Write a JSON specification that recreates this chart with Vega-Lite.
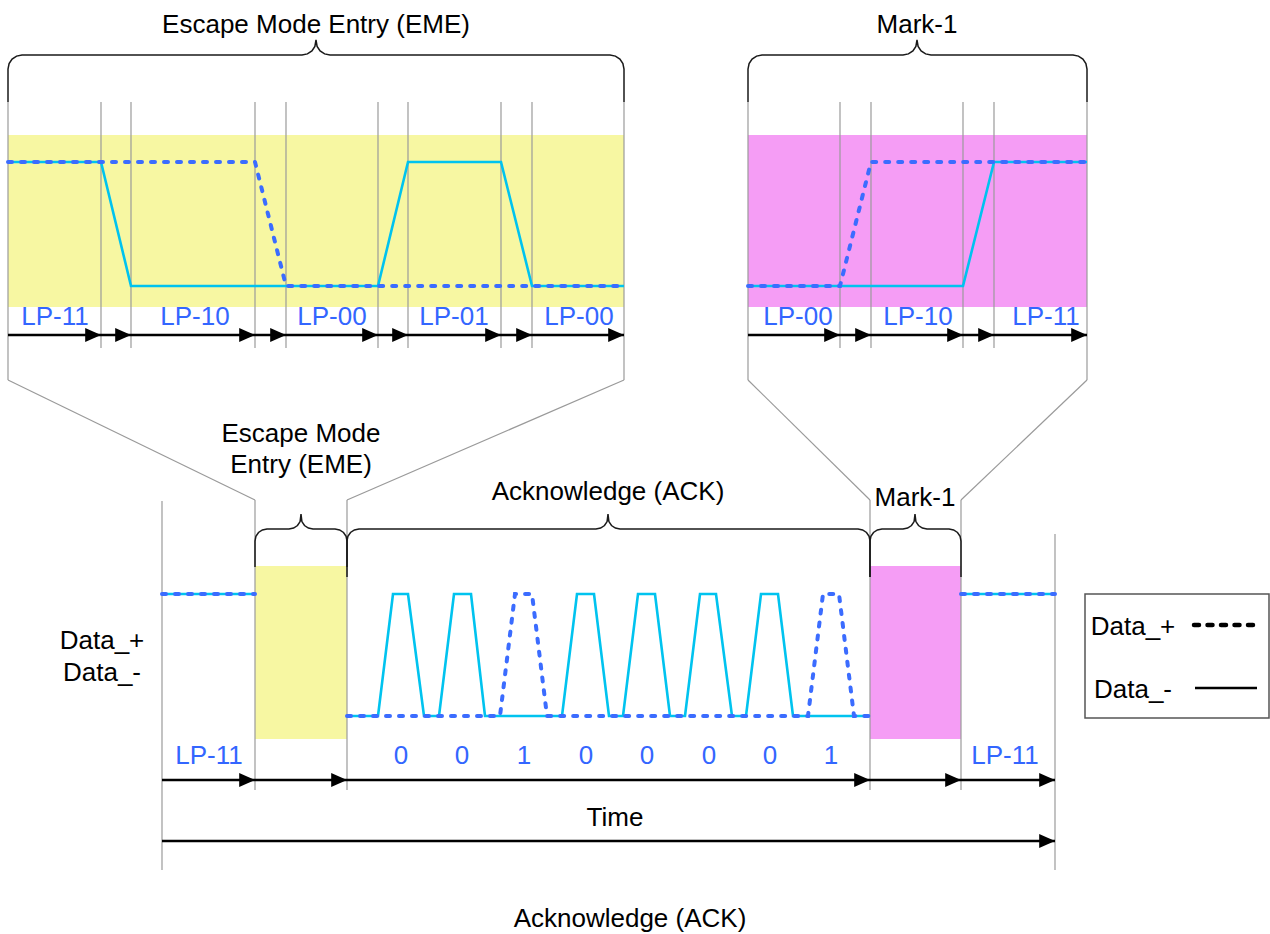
{
"$schema":"https://vega.github.io/schema/vega-lite/v6.json",
"width":1270,"height":934,
"autosize":{"type":"fit","contains":"padding"},
"padding":0,
"background":"white",
"config":{"view":{"stroke":null},"axis":{"disable":true}},
"datasets":{
"bands":[
{"xa":8,"xb":624,"ya":135,"yb":307,"k":"eme"},
{"xa":748,"xb":1087,"ya":135,"yb":307,"k":"mark"},
{"xa":255,"xb":347,"ya":566,"yb":739,"k":"eme"},
{"xa":870,"xb":961,"ya":566,"yb":739,"k":"mark"}
],
"grey":[
{"xa":8,"ya":102,"xb":8,"yb":380},{"xa":624,"ya":102,"xb":624,"yb":380},
{"xa":748,"ya":102,"xb":748,"yb":380},{"xa":1087,"ya":102,"xb":1087,"yb":380},
{"xa":101,"ya":102,"xb":101,"yb":348},{"xa":131,"ya":102,"xb":131,"yb":348},
{"xa":255,"ya":102,"xb":255,"yb":348},{"xa":286,"ya":102,"xb":286,"yb":348},
{"xa":378,"ya":102,"xb":378,"yb":348},{"xa":408,"ya":102,"xb":408,"yb":348},
{"xa":501,"ya":102,"xb":501,"yb":348},{"xa":532,"ya":102,"xb":532,"yb":348},
{"xa":840,"ya":102,"xb":840,"yb":348},{"xa":871,"ya":102,"xb":871,"yb":348},
{"xa":963,"ya":102,"xb":963,"yb":348},{"xa":994,"ya":102,"xb":994,"yb":348},
{"xa":8,"ya":380,"xb":255,"yb":500},{"xa":624,"ya":380,"xb":347,"yb":500},
{"xa":748,"ya":380,"xb":870,"yb":500},{"xa":1087,"ya":380,"xb":961,"yb":500},
{"xa":162,"ya":501,"xb":162,"yb":870},{"xa":255,"ya":500,"xb":255,"yb":790},
{"xa":347,"ya":500,"xb":347,"yb":790},{"xa":870,"ya":500,"xb":870,"yb":790},
{"xa":961,"ya":500,"xb":961,"yb":790},{"xa":1055,"ya":534,"xb":1055,"yb":870}
],
"sig":[
{"g":"p1","s":"p","i":0,"x":8,"y":162},{"g":"p1","s":"p","i":1,"x":255,"y":162},{"g":"p1","s":"p","i":2,"x":286,"y":286},{"g":"p1","s":"p","i":3,"x":624,"y":286},
{"g":"m1","s":"m","i":0,"x":8,"y":162},{"g":"m1","s":"m","i":1,"x":101,"y":162},{"g":"m1","s":"m","i":2,"x":131,"y":286},{"g":"m1","s":"m","i":3,"x":378,"y":286},{"g":"m1","s":"m","i":4,"x":408,"y":162},{"g":"m1","s":"m","i":5,"x":501,"y":162},{"g":"m1","s":"m","i":6,"x":532,"y":286},{"g":"m1","s":"m","i":7,"x":624,"y":286},
{"g":"p2","s":"p","i":0,"x":748,"y":286},{"g":"p2","s":"p","i":1,"x":840,"y":286},{"g":"p2","s":"p","i":2,"x":871,"y":162},{"g":"p2","s":"p","i":3,"x":1087,"y":162},
{"g":"m2","s":"m","i":0,"x":748,"y":286},{"g":"m2","s":"m","i":1,"x":963,"y":286},{"g":"m2","s":"m","i":2,"x":994,"y":162},{"g":"m2","s":"m","i":3,"x":1087,"y":162},
{"g":"p3","s":"p","i":0,"x":162,"y":594},{"g":"p3","s":"p","i":1,"x":255,"y":594},
{"g":"m3","s":"m","i":0,"x":162,"y":594},{"g":"m3","s":"m","i":1,"x":255,"y":594},
{"g":"p4","s":"p","i":0,"x":961,"y":594},{"g":"p4","s":"p","i":1,"x":1055,"y":594},
{"g":"m4","s":"m","i":0,"x":961,"y":594},{"g":"m4","s":"m","i":1,"x":1055,"y":594},
{"g":"p5","s":"p","i":0,"x":347,"y":716},{"g":"p5","s":"p","i":1,"x":500,"y":716},{"g":"p5","s":"p","i":2,"x":515,"y":594},{"g":"p5","s":"p","i":3,"x":532,"y":594},{"g":"p5","s":"p","i":4,"x":547,"y":716},{"g":"p5","s":"p","i":5,"x":808,"y":716},{"g":"p5","s":"p","i":6,"x":823,"y":594},{"g":"p5","s":"p","i":7,"x":839,"y":594},{"g":"p5","s":"p","i":8,"x":854,"y":716},{"g":"p5","s":"p","i":9,"x":870,"y":716},
{"g":"m5","s":"m","i":0,"x":347,"y":716},{"g":"m5","s":"m","i":1,"x":378,"y":716},{"g":"m5","s":"m","i":2,"x":393,"y":594},{"g":"m5","s":"m","i":3,"x":408,"y":594},{"g":"m5","s":"m","i":4,"x":424,"y":716},
{"g":"m5","s":"m","i":5,"x":439,"y":716},{"g":"m5","s":"m","i":6,"x":454,"y":594},{"g":"m5","s":"m","i":7,"x":471,"y":594},{"g":"m5","s":"m","i":8,"x":485,"y":716},
{"g":"m5","s":"m","i":9,"x":562,"y":716},{"g":"m5","s":"m","i":10,"x":577,"y":594},{"g":"m5","s":"m","i":11,"x":594,"y":594},{"g":"m5","s":"m","i":12,"x":609,"y":716},
{"g":"m5","s":"m","i":13,"x":623,"y":716},{"g":"m5","s":"m","i":14,"x":638,"y":594},{"g":"m5","s":"m","i":15,"x":655,"y":594},{"g":"m5","s":"m","i":16,"x":670,"y":716},
{"g":"m5","s":"m","i":17,"x":685,"y":716},{"g":"m5","s":"m","i":18,"x":700,"y":594},{"g":"m5","s":"m","i":19,"x":716,"y":594},{"g":"m5","s":"m","i":20,"x":732,"y":716},
{"g":"m5","s":"m","i":21,"x":746,"y":716},{"g":"m5","s":"m","i":22,"x":761,"y":594},{"g":"m5","s":"m","i":23,"x":778,"y":594},{"g":"m5","s":"m","i":24,"x":793,"y":716},
{"g":"m5","s":"m","i":25,"x":870,"y":716},
{"g":"lp","s":"lp","i":0,"x":1194,"y":625},{"g":"lp","s":"lp","i":1,"x":1256,"y":625},
{"g":"lm","s":"lm","i":0,"x":1195,"y":688},{"g":"lm","s":"lm","i":1,"x":1257,"y":688}
],
"arrows":[
{"xa":8,"xb":101,"y":335},{"xa":101,"xb":131,"y":335},{"xa":131,"xb":255,"y":335},{"xa":255,"xb":286,"y":335},{"xa":286,"xb":378,"y":335},{"xa":378,"xb":408,"y":335},{"xa":408,"xb":501,"y":335},{"xa":501,"xb":532,"y":335},{"xa":532,"xb":624,"y":335},
{"xa":748,"xb":840,"y":335},{"xa":840,"xb":871,"y":335},{"xa":871,"xb":963,"y":335},{"xa":963,"xb":994,"y":335},{"xa":994,"xb":1087,"y":335},
{"xa":162,"xb":255,"y":780},{"xa":255,"xb":347,"y":780},{"xa":347,"xb":870,"y":780},{"xa":870,"xb":961,"y":780},{"xa":961,"xb":1055,"y":780},
{"xa":162,"xb":1055,"y":841}
],
"braces":[
{"b":"t1","i":0,"x":8,"y":102},{"b":"t1","i":1,"x":8,"y":69},{"b":"t1","i":2,"x":9.1,"y":63.6},{"b":"t1","i":3,"x":12.1,"y":59.1},{"b":"t1","i":4,"x":16.6,"y":56.1},{"b":"t1","i":5,"x":22,"y":55},{"b":"t1","i":6,"x":302,"y":55},{"b":"t1","i":7,"x":307.4,"y":53.9},{"b":"t1","i":8,"x":311.9,"y":50.9},{"b":"t1","i":9,"x":314.9,"y":46.4},{"b":"t1","i":10,"x":316,"y":40},{"b":"t1","i":11,"x":317.1,"y":46.4},{"b":"t1","i":12,"x":320.1,"y":50.9},{"b":"t1","i":13,"x":324.6,"y":53.9},{"b":"t1","i":14,"x":330,"y":55},{"b":"t1","i":15,"x":610,"y":55},{"b":"t1","i":16,"x":615.4,"y":56.1},{"b":"t1","i":17,"x":619.9,"y":59.1},{"b":"t1","i":18,"x":622.9,"y":63.6},{"b":"t1","i":19,"x":624,"y":69},{"b":"t1","i":20,"x":624,"y":102},
{"b":"t2","i":0,"x":748,"y":102},{"b":"t2","i":1,"x":748,"y":69},{"b":"t2","i":2,"x":749.1,"y":63.6},{"b":"t2","i":3,"x":752.1,"y":59.1},{"b":"t2","i":4,"x":756.6,"y":56.1},{"b":"t2","i":5,"x":762,"y":55},{"b":"t2","i":6,"x":903,"y":55},{"b":"t2","i":7,"x":908.4,"y":53.9},{"b":"t2","i":8,"x":912.9,"y":50.9},{"b":"t2","i":9,"x":915.9,"y":46.4},{"b":"t2","i":10,"x":917,"y":40},{"b":"t2","i":11,"x":918.1,"y":46.4},{"b":"t2","i":12,"x":921.1,"y":50.9},{"b":"t2","i":13,"x":925.6,"y":53.9},{"b":"t2","i":14,"x":931,"y":55},{"b":"t2","i":15,"x":1073,"y":55},{"b":"t2","i":16,"x":1078.4,"y":56.1},{"b":"t2","i":17,"x":1082.9,"y":59.1},{"b":"t2","i":18,"x":1085.9,"y":63.6},{"b":"t2","i":19,"x":1087,"y":69},{"b":"t2","i":20,"x":1087,"y":102},
{"b":"b1","i":0,"x":255,"y":567},{"b":"b1","i":1,"x":255,"y":541},{"b":"b1","i":2,"x":255.9,"y":536.4},{"b":"b1","i":3,"x":258.5,"y":532.5},{"b":"b1","i":4,"x":262.4,"y":529.9},{"b":"b1","i":5,"x":267,"y":529},{"b":"b1","i":6,"x":289,"y":529},{"b":"b1","i":7,"x":293.6,"y":528.1},{"b":"b1","i":8,"x":297.5,"y":525.5},{"b":"b1","i":9,"x":300.1,"y":521.6},{"b":"b1","i":10,"x":301,"y":514},{"b":"b1","i":11,"x":301.9,"y":521.6},{"b":"b1","i":12,"x":304.5,"y":525.5},{"b":"b1","i":13,"x":308.4,"y":528.1},{"b":"b1","i":14,"x":313,"y":529},{"b":"b1","i":15,"x":335,"y":529},{"b":"b1","i":16,"x":339.6,"y":529.9},{"b":"b1","i":17,"x":343.5,"y":532.5},{"b":"b1","i":18,"x":346.1,"y":536.4},{"b":"b1","i":19,"x":347,"y":541},{"b":"b1","i":20,"x":347,"y":567},
{"b":"b2","i":0,"x":347,"y":577},{"b":"b2","i":1,"x":347,"y":541},{"b":"b2","i":2,"x":347.9,"y":536.4},{"b":"b2","i":3,"x":350.5,"y":532.5},{"b":"b2","i":4,"x":354.4,"y":529.9},{"b":"b2","i":5,"x":359,"y":529},{"b":"b2","i":6,"x":596,"y":529},{"b":"b2","i":7,"x":600.6,"y":528.1},{"b":"b2","i":8,"x":604.5,"y":525.5},{"b":"b2","i":9,"x":607.1,"y":521.6},{"b":"b2","i":10,"x":608,"y":514},{"b":"b2","i":11,"x":608.9,"y":521.6},{"b":"b2","i":12,"x":611.5,"y":525.5},{"b":"b2","i":13,"x":615.4,"y":528.1},{"b":"b2","i":14,"x":620,"y":529},{"b":"b2","i":15,"x":858,"y":529},{"b":"b2","i":16,"x":862.6,"y":529.9},{"b":"b2","i":17,"x":866.5,"y":532.5},{"b":"b2","i":18,"x":869.1,"y":536.4},{"b":"b2","i":19,"x":870,"y":541},{"b":"b2","i":20,"x":870,"y":577},
{"b":"b3","i":0,"x":870,"y":577},{"b":"b3","i":1,"x":870,"y":541},{"b":"b3","i":2,"x":870.9,"y":536.4},{"b":"b3","i":3,"x":873.5,"y":532.5},{"b":"b3","i":4,"x":877.4,"y":529.9},{"b":"b3","i":5,"x":882,"y":529},{"b":"b3","i":6,"x":903,"y":529},{"b":"b3","i":7,"x":907.6,"y":528.1},{"b":"b3","i":8,"x":911.5,"y":525.5},{"b":"b3","i":9,"x":914.1,"y":521.6},{"b":"b3","i":10,"x":915,"y":514},{"b":"b3","i":11,"x":915.9,"y":521.6},{"b":"b3","i":12,"x":918.5,"y":525.5},{"b":"b3","i":13,"x":922.4,"y":528.1},{"b":"b3","i":14,"x":927,"y":529},{"b":"b3","i":15,"x":949,"y":529},{"b":"b3","i":16,"x":953.6,"y":529.9},{"b":"b3","i":17,"x":957.5,"y":532.5},{"b":"b3","i":18,"x":960.1,"y":536.4},{"b":"b3","i":19,"x":961,"y":541},{"b":"b3","i":20,"x":961,"y":577}
],
"box":[{"xa":1085,"xb":1269,"ya":594,"yb":718}],
"texts":[
{"t":"Escape Mode Entry (EME)","x":316,"y":33,"c":"k"},
{"t":"Mark-1","x":917,"y":33,"c":"k"},
{"t":"LP-11","x":55,"y":325,"c":"b"},
{"t":"LP-10","x":195,"y":325,"c":"b"},
{"t":"LP-00","x":332,"y":325,"c":"b"},
{"t":"LP-01","x":454,"y":325,"c":"b"},
{"t":"LP-00","x":579,"y":325,"c":"b"},
{"t":"LP-00","x":798,"y":325,"c":"b"},
{"t":"LP-10","x":918,"y":325,"c":"b"},
{"t":"LP-11","x":1046,"y":325,"c":"b"},
{"t":"Escape Mode","x":301,"y":442,"c":"k"},
{"t":"Entry (EME)","x":301,"y":473,"c":"k"},
{"t":"Acknowledge (ACK)","x":608,"y":500,"c":"k"},
{"t":"Mark-1","x":915,"y":506,"c":"k"},
{"t":"Data_+","x":102,"y":649,"c":"k"},
{"t":"Data_-","x":102,"y":681,"c":"k"},
{"t":"LP-11","x":209,"y":764,"c":"b"},
{"t":"0","x":401,"y":764,"c":"b"},
{"t":"0","x":462,"y":764,"c":"b"},
{"t":"1","x":524,"y":764,"c":"b"},
{"t":"0","x":586,"y":764,"c":"b"},
{"t":"0","x":647,"y":764,"c":"b"},
{"t":"0","x":709,"y":764,"c":"b"},
{"t":"0","x":770,"y":764,"c":"b"},
{"t":"1","x":831,"y":764,"c":"b"},
{"t":"LP-11","x":1005,"y":764,"c":"b"},
{"t":"Time","x":615,"y":826,"c":"k"},
{"t":"Acknowledge (ACK)","x":630,"y":927,"c":"k"},
{"t":"Data_+","x":1133,"y":635,"c":"k"},
{"t":"Data_-","x":1133,"y":698,"c":"k"}
]
},
"layer":[
{"data":{"name":"bands"},"mark":{"type":"rect","opacity":1},
 "encoding":{
  "x":{"field":"xa","type":"quantitative","scale":{"domain":[0,1270],"nice":false,"zero":false}},
  "x2":{"field":"xb"},
  "y":{"field":"ya","type":"quantitative","scale":{"domain":[0,934],"nice":false,"zero":false,"reverse":true}},
  "y2":{"field":"yb"},
  "color":{"field":"k","type":"nominal","scale":{"domain":["eme","mark"],"range":["#f7f7a2","#f59df5"]},"legend":null}}},
{"data":{"name":"grey"},"mark":{"type":"rule","color":"#9a9a9a","strokeWidth":1.2},
 "encoding":{"x":{"field":"xa","type":"quantitative"},"x2":{"field":"xb"},"y":{"field":"ya","type":"quantitative"},"y2":{"field":"yb"}}},
{"data":{"name":"sig"},"transform":[{"filter":"datum.s=='m'"}],
 "mark":{"type":"line","color":"#00c3ef","strokeWidth":2.6},
 "encoding":{"x":{"field":"x","type":"quantitative"},"y":{"field":"y","type":"quantitative"},"detail":{"field":"g"},"order":{"field":"i","type":"quantitative"}}},
{"data":{"name":"sig"},"transform":[{"filter":"datum.s=='p'"}],
 "mark":{"type":"line","color":"#3b6cff","strokeWidth":4,"strokeDash":[4,9],"strokeCap":"round"},
 "encoding":{"x":{"field":"x","type":"quantitative"},"y":{"field":"y","type":"quantitative"},"detail":{"field":"g"},"order":{"field":"i","type":"quantitative"}}},
{"data":{"name":"arrows"},"mark":{"type":"rule","color":"#000000","strokeWidth":2.5},
 "encoding":{"x":{"field":"xa","type":"quantitative"},"x2":{"field":"xb"},"y":{"field":"y","type":"quantitative"}}},
{"data":{"name":"arrows"},"mark":{"type":"point","shape":"M0,0L-1,-0.45L-1,0.45Z","size":1000,"filled":true,"opacity":1,"color":"#000000","strokeWidth":0},
 "encoding":{"x":{"field":"xb","type":"quantitative"},"y":{"field":"y","type":"quantitative"}}},
{"data":{"name":"braces"},"mark":{"type":"line","color":"#1a1a1a","strokeWidth":1.5},
 "encoding":{"x":{"field":"x","type":"quantitative"},"y":{"field":"y","type":"quantitative"},"detail":{"field":"b"},"order":{"field":"i","type":"quantitative"}}},
{"data":{"name":"box"},"mark":{"type":"rect","fill":null,"fillOpacity":0,"stroke":"#555555","strokeWidth":1.5},
 "encoding":{"x":{"field":"xa","type":"quantitative"},"x2":{"field":"xb"},"y":{"field":"ya","type":"quantitative"},"y2":{"field":"yb"}}},
{"data":{"name":"sig"},"transform":[{"filter":"datum.s=='lm'"}],
 "mark":{"type":"line","color":"#000000","strokeWidth":2.5},
 "encoding":{"x":{"field":"x","type":"quantitative"},"y":{"field":"y","type":"quantitative"},"order":{"field":"i","type":"quantitative"}}},
{"data":{"name":"sig"},"transform":[{"filter":"datum.s=='lp'"}],
 "mark":{"type":"line","color":"#000000","strokeWidth":4.5,"strokeDash":[5,8.5],"strokeCap":"round"},
 "encoding":{"x":{"field":"x","type":"quantitative"},"y":{"field":"y","type":"quantitative"},"order":{"field":"i","type":"quantitative"}}},
{"data":{"name":"texts"},"transform":[{"filter":"datum.c=='k'"}],
 "mark":{"type":"text","font":"Liberation Sans","fontSize":26,"align":"center","baseline":"alphabetic","color":"#000000"},
 "encoding":{"x":{"field":"x","type":"quantitative"},"y":{"field":"y","type":"quantitative"},"text":{"field":"t"}}},
{"data":{"name":"texts"},"transform":[{"filter":"datum.c=='b'"}],
 "mark":{"type":"text","font":"Liberation Sans","fontSize":26,"align":"center","baseline":"alphabetic","color":"#3366ff"},
 "encoding":{"x":{"field":"x","type":"quantitative"},"y":{"field":"y","type":"quantitative"},"text":{"field":"t"}}}
]
}
